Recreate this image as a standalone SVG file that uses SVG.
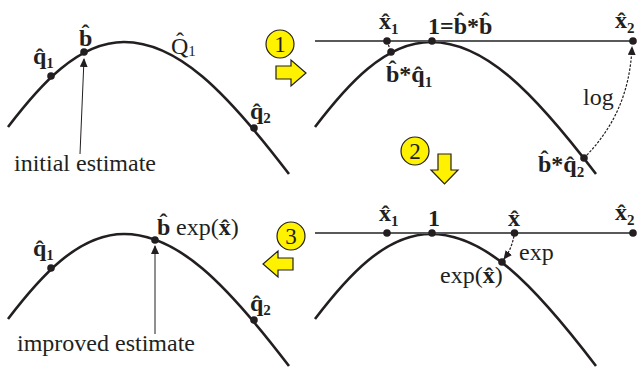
<svg xmlns="http://www.w3.org/2000/svg" width="637" height="370" viewBox="0 0 637 370">
<style>
text{font-family:"Liberation Serif","Times New Roman",serif;fill:#231f20}
.t{font-size:24px}
.b{font-size:24px;font-weight:bold}
.s{font-size:15px;font-weight:bold}
.s2{font-size:15px}
.c{fill:none;stroke:#231f20;stroke-width:2.6;stroke-linecap:butt}
.l{fill:none;stroke:#58595b;stroke-width:2.2}
.a{fill:none;stroke:#231f20;stroke-width:1}
.d{fill:none;stroke:#231f20;stroke-width:1.2;stroke-dasharray:2.5 1.5}
.p{fill:#231f20}
.y{fill:#fff200;stroke:#231f20;stroke-width:1.2}
.n{font-size:23px;text-anchor:middle}
</style>
<defs>
<path id="curve" d="M8,127C40,85 78,42 124,42C177,42 225,90 289,174"/>
<marker id="ar" markerWidth="10" markerHeight="10" refX="8" refY="4" orient="auto" markerUnits="userSpaceOnUse"><path d="M0,0L9,4L0,8Z" fill="#231f20"/></marker>
</defs>
<g id="connectors">
<use href="#curve" class="c"/>
<use href="#curve" class="c" x="307"/>
<use href="#curve" class="c" y="192"/>
<use href="#curve" class="c" x="307" y="192"/>
<path class="l" d="M315,41H633"/>
<path class="l" d="M315,233H633"/>
<path class="a" d="M80,154L84,59" marker-end="url(#ar)"/>
<path class="a" d="M155,334V246" marker-end="url(#ar)"/>
<path class="d" d="M387,41L391,52"/>
<path class="d" d="M584,158C612,130 630,95 632,47" marker-end="url(#ar)"/>
<path class="d" d="M514,236C512,245 510,251 504,259" marker-end="url(#ar)"/>
</g>
<g id="panel1">
<circle class="p" cx="51" cy="76" r="3.8"/><circle class="p" cx="84" cy="52" r="3.8"/><circle class="p" cx="254" cy="128" r="3.8"/>
<text class="b" x="33" y="64">q&#x302;<tspan class="s" dy="4">1</tspan></text>
<text class="b" x="79" y="46">b&#x302;</text>
<text class="t" x="171" y="54">Q&#x302;<tspan class="s2" dy="2">1</tspan></text>
<text class="b" x="250" y="119">q&#x302;<tspan class="s" dy="4">2</tspan></text>
<text class="t" x="14" y="171">initial estimate</text>
</g>
<g id="step1">
<circle class="y" cx="280" cy="44" r="14"/><text class="n" x="280" y="52">1</text>
<path class="y" d="M276,66H291V60L306,73L291,86V79H276Z"/>
</g>
<g id="panel2">
<circle class="p" cx="387" cy="41" r="3.8"/><circle class="p" cx="432" cy="41" r="3.8"/><circle class="p" cx="633" cy="41" r="3.8"/><circle class="p" cx="391" cy="52" r="3.8"/><circle class="p" cx="584" cy="158" r="3.8"/>
<text class="b" x="379" y="29">x&#x302;<tspan class="s" dy="5">1</tspan></text>
<text class="b" x="428" y="34">1=b&#x302;*b&#x302;</text>
<text class="b" x="615" y="28">x&#x302;<tspan class="s" dy="5">2</tspan></text>
<text class="b" x="386" y="82">b&#x302;*q&#x302;<tspan class="s" dy="5">1</tspan></text>
<text class="t" x="583" y="105">log</text>
<text class="b" x="538" y="172">b&#x302;*q&#x302;<tspan class="s" dy="5">2</tspan></text>
</g>
<g id="step2">
<circle class="y" cx="415" cy="151" r="14"/><text class="n" x="415" y="159">2</text>
<path class="y" d="M438,154H451V170H458L444.5,184L431,170H438Z"/>
</g>
<g id="panel3">
<circle class="p" cx="51" cy="268" r="3.8"/><circle class="p" cx="155" cy="240" r="3.8"/><circle class="p" cx="254" cy="320" r="3.8"/>
<text class="b" x="33" y="256">q&#x302;<tspan class="s" dy="4">1</tspan></text>
<text class="b" x="157" y="235">b&#x302;</text>
<text class="t" x="176" y="235">exp(<tspan class="b">x&#x302;</tspan>)</text>
<text class="b" x="250" y="311">q&#x302;<tspan class="s" dy="4">2</tspan></text>
<text class="t" x="17" y="351">improved estimate</text>
</g>
<g id="step3">
<circle class="y" cx="291" cy="236" r="14"/><text class="n" x="291" y="244">3</text>
<path class="y" d="M293,258H278V251L263,264L278,277V270H293Z"/>
</g>
<g id="panel4">
<circle class="p" cx="387" cy="233" r="3.8"/><circle class="p" cx="432" cy="233" r="3.8"/><circle class="p" cx="514.5" cy="233" r="3.8"/><circle class="p" cx="633" cy="233" r="3.8"/><circle class="p" cx="502" cy="262" r="3.8"/>
<text class="b" x="379" y="221">x&#x302;<tspan class="s" dy="5">1</tspan></text>
<text class="b" x="428" y="226">1</text>
<text class="b" x="508" y="226">x&#x302;</text>
<text class="b" x="615" y="220">x&#x302;<tspan class="s" dy="5">2</tspan></text>
<text class="t" x="519" y="260">exp</text>
<text class="t" x="440" y="283">exp(<tspan class="b">x&#x302;</tspan>)</text>
</g>
</svg>
